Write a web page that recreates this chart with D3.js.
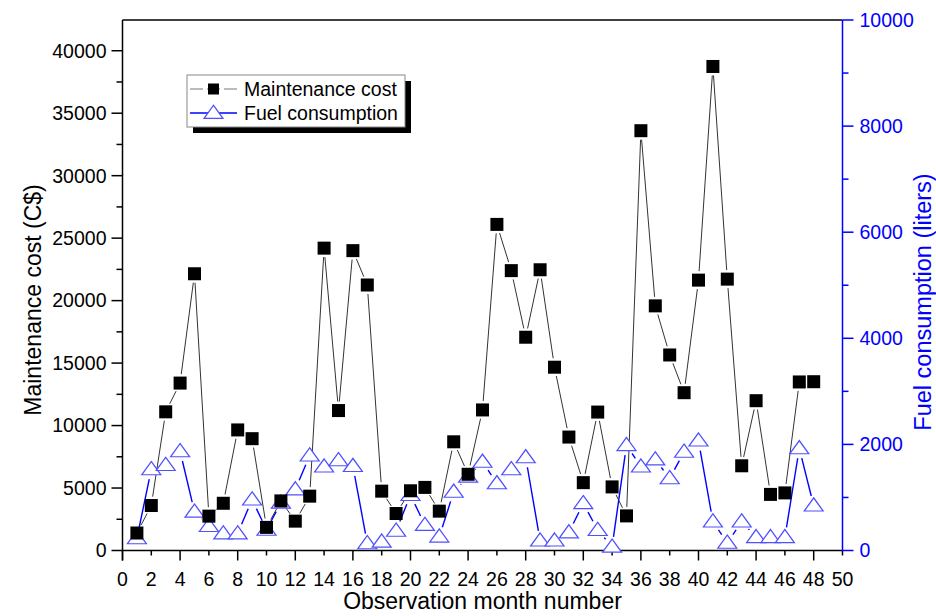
<!DOCTYPE html>
<html>
<head>
<meta charset="utf-8">
<script src="https://cdn.jsdelivr.net/npm/d3@7/dist/d3.min.js"></script>
<style>
body{margin:0;background:#fff}
text{font-family:"Liberation Sans",Arial,sans-serif}
</style>
</head>
<body>
<div class="chart"></div>
<script>
// data
const months = d3.range(1,49)
const maintenanceCost = [1400,3600,11100,13400,22150,2750,3780,9650,8950,1850,
                         3970,2350,4350,24200,11200,24000,21250,4750,2960,4780,
                         5050,3150,8700,6100,11250,26100,22400,17070,22470,14670,
                         9080,5430,11080,5090,2770,33600,19580,15650,12630,21640,
                         38740,21720,6780,11990,4490,4610,13490,13510]
const fuelConsumption = [230,1530,1610,1870,730,460,320,320,960,390,
                         900,1150,1790,1580,1700,1590,135,165,370,1045,
                         480,260,1105,1390,1670,1265,1530,1755,185,185,
                         340,890,385,70,1985,1580,1715,1360,1860,2070,
                         545,145,545,250,250,250,1925,845]
const xTicks = d3.range(0,51,2)
const costTicks = d3.range(0,40001,2500)
const fuelTicks = d3.range(0,10001,1000)
const legendNames = ["Maintenance cost","Fuel consumption"]

const svg = d3.select(".chart").append("svg").attr("width",936).attr("height",616)
const plotLeft = 122.5, plotRight = 842.5, plotTop = 20, plotBottom = 550.5

const x = d3.scaleLinear().domain([0,50]).range([plotLeft,plotRight])
const yCost = d3.scaleLinear().domain([0,42460]).range([plotBottom,plotTop])
const yFuel = d3.scaleLinear().domain([0,10000]).range([plotBottom,plotTop])

const blue = "#0000ff"
const markBlue = "#5050ff"

// frame: top line
svg.append("line").attr("x1",plotLeft).attr("x2",plotRight).attr("y1",plotTop).attr("y2",plotTop)
   .attr("stroke","black").attr("stroke-width",1.5)

// bottom axis
const xAxis = svg.append("g").attr("transform",`translate(0,${plotBottom})`)
xAxis.append("line").attr("x1",plotLeft).attr("x2",plotRight).attr("stroke","black").attr("stroke-width",1.5)
xAxis.selectAll("line.tk").data(xTicks).enter().append("line").attr("class","tk")
     .attr("x1",d=>x(d)).attr("x2",d=>x(d)).attr("y1",0).attr("y2",d=>d%4==0?10:5)
     .attr("stroke","black").attr("stroke-width",1.5)
xAxis.selectAll("text").data(xTicks).enter().append("text")
     .attr("x",d=>x(d)).attr("y",35).attr("text-anchor","middle")
     .attr("font-size",19.5).attr("fill","black").text(d=>d)

// left axis
const yAxisL = svg.append("g").attr("transform",`translate(${plotLeft},0)`)
yAxisL.append("line").attr("y1",plotTop).attr("y2",plotBottom+10).attr("stroke","black").attr("stroke-width",1.5)
yAxisL.selectAll("line.tk").data(costTicks).enter().append("line").attr("class","tk")
      .attr("y1",d=>yCost(d)).attr("y2",d=>yCost(d)).attr("x1",d=>d%5000==0?-11:-6).attr("x2",0)
      .attr("stroke","black").attr("stroke-width",1.5)
yAxisL.selectAll("text").data(costTicks.filter(d=>d%5000==0)).enter().append("text")
      .attr("x",-16).attr("y",d=>yCost(d)).attr("dy","0.35em").attr("text-anchor","end")
      .attr("font-size",19.5).attr("fill","black").text(d=>d)

// right axis (blue)
const yAxisR = svg.append("g").attr("transform",`translate(${plotRight},0)`)
yAxisR.append("line").attr("y1",plotTop).attr("y2",plotBottom).attr("stroke",blue).attr("stroke-width",1.5)
yAxisR.selectAll("line.tk").data(fuelTicks).enter().append("line").attr("class","tk")
      .attr("y1",d=>yFuel(d)).attr("y2",d=>yFuel(d)).attr("x1",0).attr("x2",d=>d%2000==0?11:6)
      .attr("stroke",blue).attr("stroke-width",1.5)
yAxisR.selectAll("text").data(fuelTicks.filter(d=>d%2000==0)).enter().append("text")
      .attr("x",17).attr("y",d=>yFuel(d)).attr("dy","0.35em")
      .attr("font-size",19.5).attr("fill",blue).text(d=>d)

// axis titles
svg.append("text").attr("x",x(25)).attr("y",609).attr("text-anchor","middle")
   .attr("font-size",23).attr("fill","black").text("Observation month number")
svg.append("text").attr("transform","translate(41,300) rotate(-90)").attr("text-anchor","middle")
   .attr("font-size",23).attr("fill","black").text("Maintenance cost (C$)")
svg.append("text").attr("transform","translate(931,302) rotate(-90)").attr("text-anchor","middle")
   .attr("font-size",23.5).attr("fill",blue).text("Fuel consumption (liters)")

// connecting lines with a gap at each marker
function gapSegments(pts, gap) {
    const segs = []
    for (let i = 1; i < pts.length; i++) {
        const [x1,y1] = pts[i-1], [x2,y2] = pts[i]
        const len = Math.hypot(x2-x1,y2-y1)
        if (len <= 2*gap) continue
        const ux = (x2-x1)/len, uy = (y2-y1)/len
        segs.push([x1+ux*gap, y1+uy*gap, x2-ux*gap, y2-uy*gap])
    }
    return segs
}

const costPts = months.map((m,i)=>[x(m),yCost(maintenanceCost[i])])
const fuelPts = months.map((m,i)=>[x(m),yFuel(fuelConsumption[i])])

svg.append("g").selectAll("line").data(gapSegments(fuelPts,10)).enter().append("line")
   .attr("x1",d=>d[0]).attr("y1",d=>d[1]).attr("x2",d=>d[2]).attr("y2",d=>d[3])
   .attr("stroke",blue).attr("stroke-width",1.4)
svg.append("g").selectAll("line").data(gapSegments(costPts,9)).enter().append("line")
   .attr("x1",d=>d[0]).attr("y1",d=>d[1]).attr("x2",d=>d[2]).attr("y2",d=>d[3])
   .attr("stroke","#333").attr("stroke-width",1)

const tri = d3.symbol().type(d3.symbolTriangle).size(100)
svg.append("g").selectAll("path").data(fuelPts).enter().append("path")
   .attr("d",tri).attr("transform",d=>`translate(${d[0]},${d[1]+1}) scale(1.25,1)`)
   .attr("fill","white").attr("stroke",markBlue).attr("stroke-width",1.1)
svg.append("g").selectAll("rect").data(costPts).enter().append("rect")
   .attr("x",d=>d[0]-6.5).attr("y",d=>d[1]-6.5).attr("width",13).attr("height",13)
   .attr("fill","black")

// legend with drop shadow
const legend = svg.append("g").attr("transform","translate(187,75)")
legend.append("rect").attr("x",6).attr("y",6).attr("width",218).attr("height",52).attr("fill","black")
legend.append("rect").attr("width",218).attr("height",52).attr("fill","white").attr("stroke","#888").attr("stroke-width",1)
const entry = legend.selectAll("g.entry").data(legendNames).enter().append("g").attr("class","entry")
      .attr("transform",(d,i)=>`translate(0,${14+i*24})`)
entry.append("line").attr("x1",3).attr("x2",50).attr("stroke",(d,i)=>i==0?"#777":blue).attr("stroke-width",(d,i)=>i==0?1:1.4)
entry.filter((d,i)=>i==0).append("rect").attr("x",21).attr("y",-5.5).attr("width",11).attr("height",11).attr("fill","black")
entry.filter((d,i)=>i==0).append("rect").attr("x",16).attr("y",-1).attr("width",4).attr("height",2).attr("fill","white")
entry.filter((d,i)=>i==0).append("rect").attr("x",33).attr("y",-1).attr("width",4).attr("height",2).attr("fill","white")
entry.filter((d,i)=>i==1).append("path").attr("d",tri)
     .attr("transform","translate(26.5,1) scale(1.25,1)").attr("fill","white").attr("stroke",markBlue).attr("stroke-width",1.1)
entry.append("text").attr("x",57).attr("dy","0.35em").attr("font-size",19.5).attr("fill","black").text(d=>d)
</script>
</body>
</html>
